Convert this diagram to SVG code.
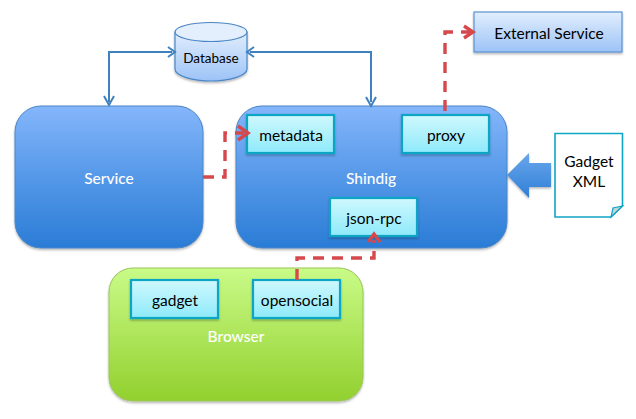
<svg xmlns="http://www.w3.org/2000/svg" width="636" height="419" viewBox="0 0 636 419">
<style>
text{font-family:Lato,"Open Sans",sans-serif;text-anchor:middle}
.b{font-size:15.5px;fill:#000}
.w{font-size:15.5px;fill:#fff;font-weight:500}
.box{fill:url(#cy);stroke:#0fa5c4;stroke-width:2.2}
.blue{fill:none;stroke:#3f80bf;stroke-width:2}
.red{fill:none;stroke:#d5484c;stroke-width:3.4;stroke-dasharray:11 8}
.rh{fill:none;stroke:#d5484c;stroke-width:3.4}
.bh{fill:none;stroke:#3f80bf;stroke-width:2}
</style>
<defs>
<linearGradient id="bl" x1="0" y1="0" x2="0" y2="1"><stop offset="0" stop-color="#84b6fb"/><stop offset="0.5" stop-color="#5598e8"/><stop offset="1" stop-color="#2a7cd6"/></linearGradient>
<linearGradient id="gr" x1="0" y1="0" x2="0" y2="1"><stop offset="0" stop-color="#c9fb88"/><stop offset="1" stop-color="#92d02e"/></linearGradient>
<linearGradient id="cy" x1="0" y1="0" x2="0" y2="1"><stop offset="0" stop-color="#cff8fd"/><stop offset="1" stop-color="#8eeafb"/></linearGradient>
<linearGradient id="lt" x1="0" y1="0" x2="0" y2="1"><stop offset="0" stop-color="#e2eefd"/><stop offset="1" stop-color="#9cc3f7"/></linearGradient>
<linearGradient id="ar" x1="0" y1="0" x2="0" y2="1"><stop offset="0" stop-color="#6aa6ec"/><stop offset="1" stop-color="#2f7fd6"/></linearGradient>
<filter id="sh" x="-10%" y="-10%" width="120%" height="125%"><feDropShadow dx="0" dy="1.5" stdDeviation="1.2" flood-color="#000" flood-opacity="0.3"/></filter>
</defs>
<g id="service"><rect x="15" y="106" width="188" height="142" rx="26" fill="url(#bl)" stroke="#4a86c5" filter="url(#sh)"/><text class="w" x="109" y="184">Service</text></g>
<g id="shindig"><rect x="236" y="106" width="271" height="142" rx="26" fill="url(#bl)" stroke="#4a86c5" filter="url(#sh)"/><text class="w" x="371" y="184">Shindig</text></g>
<g id="browser"><rect x="109" y="268" width="254" height="133" rx="24" fill="url(#gr)" stroke="#9cc55a" filter="url(#sh)"/><text class="w" x="236" y="342">Browser</text></g>
<g id="database"><path d="M175 32V69C175 76 193 81 211 81C229 81 247 76 247 69V32Z" fill="url(#lt)" stroke="#4a86c5" stroke-width="1.2" filter="url(#sh)"/><ellipse cx="211" cy="32" rx="36" ry="9.500" fill="#e4effd" stroke="#4a86c5" stroke-width="1.2"/><text x="211" y="63" style="font-size:13.5px">Database</text></g>
<g id="external"><rect x="474" y="12" width="148" height="40" fill="url(#lt)" stroke="#5a93d2" stroke-width="1.2" filter="url(#sh)"/><text class="b" x="549" y="39">External Service</text></g>
<g id="metadata"><rect x="247" y="115" width="87" height="38" class="box" filter="url(#sh)"/><text class="b" x="291" y="141">metadata</text></g>
<g id="proxy"><rect x="402" y="115" width="87" height="38" class="box" filter="url(#sh)"/><text class="b" x="446" y="141">proxy</text></g>
<g id="json-rpc"><rect x="330" y="198" width="87" height="38" class="box" filter="url(#sh)"/><text class="b" x="374" y="224">json-rpc</text></g>
<g id="gadget"><rect x="131" y="280" width="87" height="38" class="box" filter="url(#sh)"/><text class="b" x="175" y="306">gadget</text></g>
<g id="opensocial"><rect x="253" y="280" width="87" height="38" class="box" filter="url(#sh)"/><text class="b" x="297" y="306">opensocial</text></g>
<g id="gadget-xml"><path d="M555 133.500H622.500V206L611 217H555Z" fill="#fff" stroke="#0fa5c4" stroke-width="1.6"/><path d="M611 217L613 208L622.500 206Z" fill="#c8d4d6" stroke="#0fa5c4" stroke-width="1.2"/><text class="b" x="589" y="167">Gadget</text><text class="b" x="589" y="187">XML</text></g>
<g id="connectors">
<path class="blue" d="M109 102V52H172"/><path class="bh" d="M168 47L175 52L168 57M104 96L109 105L114 96"/>
<path class="blue" d="M250 52H371V102"/><path class="bh" d="M254 47L247 52L254 57M366 97L371 106L376 97"/>
<path class="red" d="M203 177H225V133H244"/><path class="rh" d="M238 126L248 133L238 140"/>
<path class="red" d="M445 111V32H472"/><path class="rh" d="M464 26L473 32L464 38"/>
<path class="red" d="M297 280V258H374V240"/><path class="rh" d="M368 242L374 234L380 242"/>
<path d="M507 175L529 153V163H551V187H529V198Z" fill="url(#ar)" filter="url(#sh)"/>
</g>
</svg>
